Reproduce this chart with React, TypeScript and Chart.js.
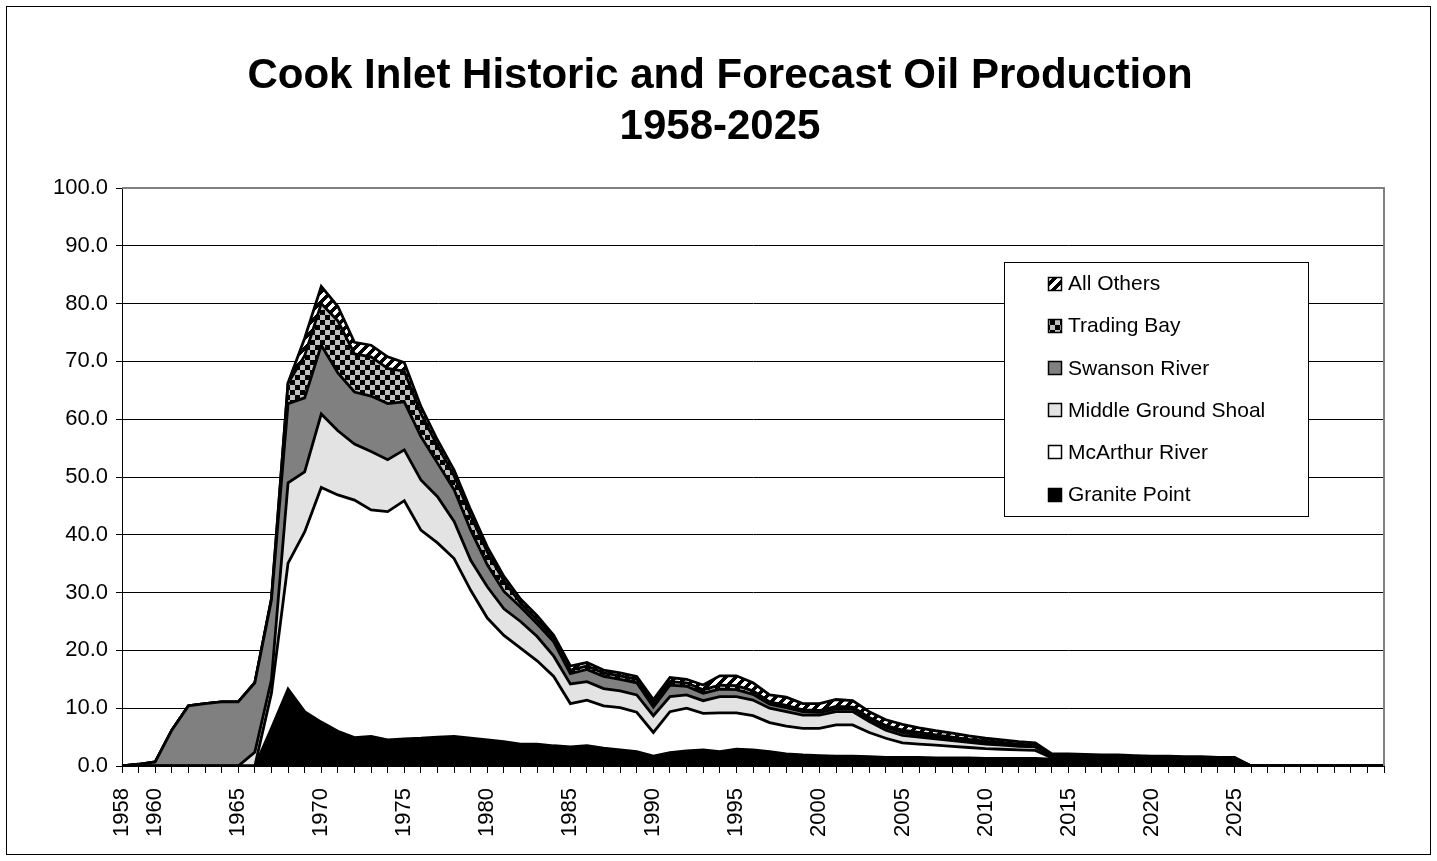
import React, { useEffect, useRef } from 'react';
import { Chart, registerables } from 'chart.js';

Chart.register(...registerables);

const years = [
  '1958', '1959', '1960', '1961', '1962', '1963', '1964', '1965', '1966', '1967',
  '1968', '1969', '1970', '1971', '1972', '1973', '1974', '1975', '1976', '1977',
  '1978', '1979', '1980', '1981', '1982', '1983', '1984', '1985', '1986', '1987',
  '1988', '1989', '1990', '1991', '1992', '1993', '1994', '1995', '1996', '1997',
  '1998', '1999', '2000', '2001', '2002', '2003', '2004', '2005', '2006', '2007',
  '2008', '2009', '2010', '2011', '2012', '2013', '2014', '2015', '2016', '2017',
  '2018', '2019', '2020', '2021', '2022', '2023', '2024', '2025', '2026', '2027',
  '2028', '2029', '2030', '2031', '2032', '2033', '2034',
];

const labeledYears = [
  '1958', '1960', '1965', '1970', '1975', '1980', '1985', '1990', '1995',
  '2000', '2005', '2010', '2015', '2020', '2025',
];

const titleLines = ['Cook Inlet Historic and Forecast Oil Production', '1958-2025'];

// 1958 .. 2034
const granitePoint = [
  0, 0, 0, 0, 0, 0, 0, 0, 0, 6.5,
  13.3, 9.4, 7.6, 6.0, 4.9, 5.1, 4.5, 4.7, 4.8, 5.0,
  5.1, 4.8, 4.5, 4.2, 3.8, 3.8, 3.5, 3.3, 3.5, 3.1,
  2.8, 2.5, 1.7, 2.3, 2.6, 2.8, 2.5, 2.9, 2.8, 2.5,
  2.1, 1.9, 1.8, 1.7, 1.7, 1.6, 1.5, 1.5, 1.5, 1.4,
  1.4, 1.4, 1.3, 1.3, 1.3, 1.3, 1.2, 1.2, 1.2, 1.1,
  1.1, 1.1, 1.0, 1.0, 1.0, 1.0, 0.9, 0.9, 0, 0,
  0, 0, 0, 0, 0, 0, 0,
];

const mcArthurRiver = [
  0, 0, 0, 0, 0, 0, 0, 0, 0, 6.1,
  21.8, 31.1, 40.6, 40.9, 41.1, 39.2, 39.5, 41.2, 36.0, 33.6,
  30.8, 25.6, 21.1, 18.4, 16.6, 14.4, 12.0, 7.5, 7.9, 7.3,
  7.3, 6.8, 4.1, 7.1, 7.4, 6.3, 6.7, 6.3, 5.9, 5.0,
  4.8, 4.6, 4.7, 5.4, 5.4, 4.2, 3.3, 2.5, 2.3, 2.2,
  2.0, 1.8, 1.7, 1.6, 1.5, 1.4, 0.2, 0.2, 0.2, 0.2,
  0.2, 0.2, 0.2, 0.2, 0.2, 0.2, 0.2, 0.2, 0, 0,
  0, 0, 0, 0, 0, 0, 0,
];

const middleGroundShoal = [
  0, 0, 0, 0, 0, 0, 0, 0, 2.4, 2.3,
  13.9, 10.4, 12.7, 11.1, 9.7, 10.1, 9.0, 8.8, 8.7, 8.0,
  6.4, 5.2, 5.4, 4.6, 4.6, 4.2, 3.5, 3.4, 3.2, 3.0,
  2.9, 3.0, 2.9, 2.6, 2.3, 2.2, 2.8, 2.8, 2.7, 2.5,
  2.5, 2.3, 2.3, 2.3, 2.3, 1.9, 1.4, 1.3, 1.2, 1.1,
  1.0, 0.9, 0.8, 0.7, 0.6, 0.6, 0.2, 0.2, 0.2, 0.2,
  0.2, 0.1, 0.1, 0.1, 0.1, 0.1, 0.1, 0.1, 0, 0,
  0, 0, 0, 0, 0, 0, 0,
];

const swansonRiver = [
  0.0, 0.3, 0.7, 6.2, 10.4, 10.8, 11.1, 11.1, 12.0, 13.8,
  13.7, 12.8, 11.9, 10.0, 9.0, 9.6, 9.7, 8.3, 7.5, 5.8,
  5.5, 5.2, 3.8, 3.0, 2.5, 2.2, 2.5, 1.8, 2.1, 2.1,
  2.0, 2.1, 1.5, 2.0, 1.5, 1.3, 1.3, 1.2, 1.0, 0.7,
  0.7, 0.6, 0.5, 0.5, 0.5, 0.4, 0.5, 0.5, 0.4, 0.4,
  0.4, 0.3, 0.3, 0.3, 0.3, 0.2, 0.2, 0.2, 0.1, 0.1,
  0.1, 0.1, 0.1, 0.1, 0.1, 0.1, 0.1, 0.1, 0, 0,
  0, 0, 0, 0, 0, 0, 0,
];

const tradingBay = [
  0, 0, 0, 0, 0, 0, 0, 0, 0, 0.1,
  3.5, 7.3, 7.2, 9.0, 6.6, 6.8, 6.1, 5.3, 4.0, 3.0,
  2.4, 2.5, 2.2, 1.8, 0.7, 0.7, 0.6, 0.6, 0.6, 0.6,
  0.6, 0.6, 0.6, 0.6, 0.6, 0.6, 0.7, 0.7, 0.6, 0.4,
  0.4, 0.3, 0.3, 0.4, 0.3, 0.3, 0.3, 0.4, 0.4, 0.3,
  0.2, 0.2, 0.2, 0.1, 0.1, 0.1, 0.1, 0.1, 0.1, 0.1,
  0.1, 0.1, 0.1, 0.1, 0.1, 0.1, 0.1, 0.1, 0, 0,
  0, 0, 0, 0, 0, 0, 0,
];

const allOthers = [
  0, 0, 0, 0, 0, 0, 0, 0, 0, 0.2,
  0.1, 3.0, 3.0, 2.5, 2.0, 2.0, 2.0, 1.5, 1.2, 1.0,
  1.0, 1.0, 0.9, 0.8, 0.7, 0.7, 0.5, 0.7, 0.6, 0.5,
  0.5, 0.5, 0.7, 0.7, 0.6, 0.8, 1.6, 1.7, 1.4, 1.2,
  1.4, 1.1, 1.2, 1.2, 1.1, 1.0, 1.0, 1.0, 0.8, 0.7,
  0.7, 0.6, 0.5, 0.5, 0.4, 0.4, 0.2, 0.2, 0.2, 0.2,
  0.2, 0.2, 0.2, 0.2, 0.1, 0.1, 0.1, 0.1, 0, 0,
  0, 0, 0, 0, 0, 0, 0,
];

const FONT = "'Liberation Sans', Arial, sans-serif";

function makeChecker(): CanvasPattern | string {
  const c = document.createElement('canvas');
  c.width = 10;
  c.height = 10;
  const g = c.getContext('2d');
  if (!g) return '#c0c0c0';
  g.fillStyle = '#c0c0c0';
  g.fillRect(0, 0, 10, 10);
  g.fillStyle = '#000000';
  g.fillRect(0, 0, 5, 5);
  g.fillRect(5, 5, 5, 5);
  return g.createPattern(c, 'repeat') || '#c0c0c0';
}

function makeStripes(): CanvasPattern | string {
  const c = document.createElement('canvas');
  c.width = 10;
  c.height = 10;
  const g = c.getContext('2d');
  if (!g) return '#808080';
  g.fillStyle = '#ffffff';
  g.fillRect(0, 0, 10, 10);
  g.fillStyle = '#000000';
  for (let y = 0; y < 10; y++) {
    for (let x = 0; x < 10; x++) {
      if ((x + y) % 10 < 5) g.fillRect(x, y, 1, 1);
    }
  }
  return g.createPattern(c, 'repeat') || '#808080';
}

const framePlugin = {
  id: 'frameAndBorder',
  afterDatasetsDraw(chart: any) {
    const { ctx, chartArea } = chart;
    ctx.save();
    ctx.strokeStyle = '#808080';
    ctx.lineWidth = 2;
    ctx.beginPath();
    ctx.moveTo(chartArea.left, chartArea.top);
    ctx.lineTo(chartArea.right, chartArea.top);
    ctx.lineTo(chartArea.right, chartArea.bottom);
    ctx.stroke();
    ctx.restore();
  },
  afterDraw(chart: any) {
    const { ctx } = chart;
    ctx.save();
    ctx.strokeStyle = '#000000';
    ctx.lineWidth = 1;
    ctx.strokeRect(6.5, 6.5, 1424, 848);
    ctx.fillStyle = '#000000';
    ctx.font = `bold 42px ${FONT}`;
    ctx.textAlign = 'center';
    ctx.textBaseline = 'middle';
    ctx.fillText(titleLines[0], 720, 76);
    ctx.fillText(titleLines[1], 720, 127);
    ctx.restore();
  },
};

const legendPlugin = {
  id: 'boxLegend',
  afterDraw(chart: any) {
    const { ctx, chartArea } = chart;
    const left = Math.round(chartArea.right - 380);
    const top = Math.round(chartArea.top + 74);
    const w = 304;
    const h = 254;
    ctx.save();
    ctx.fillStyle = '#ffffff';
    ctx.fillRect(left, top, w, h);
    ctx.strokeStyle = '#000000';
    ctx.lineWidth = 1;
    ctx.strokeRect(left + 0.5, top + 0.5, w, h);
    const ds = chart.data.datasets.slice().reverse();
    ds.forEach((d: any, i: number) => {
      const cy = top + 21.5 + i * 42.2;
      const sx = left + 44;
      const sy = Math.round(cy - 7);
      ctx.fillStyle = d.backgroundColor;
      ctx.fillRect(sx, sy, 14, 14);
      ctx.strokeStyle = '#000000';
      ctx.lineWidth = 1.5;
      ctx.strokeRect(sx + 0.5, sy + 0.5, 13, 13);
      ctx.fillStyle = '#000000';
      ctx.font = `21px ${FONT}`;
      ctx.textBaseline = 'middle';
      ctx.textAlign = 'left';
      ctx.fillText(d.label, left + 64, cy + 1);
    });
    ctx.restore();
  },
};

export default function App() {
  const ref = useRef<HTMLCanvasElement>(null);

  useEffect(() => {
    const canvas = ref.current;
    if (!canvas) return;
    const checker = makeChecker();
    const stripes = makeStripes();
    const series = [
      { label: 'Granite Point', data: granitePoint, bg: '#000000' },
      { label: 'McArthur River', data: mcArthurRiver, bg: '#ffffff' },
      { label: 'Middle Ground Shoal', data: middleGroundShoal, bg: '#e3e3e3' },
      { label: 'Swanson River', data: swansonRiver, bg: '#808080' },
      { label: 'Trading Bay', data: tradingBay, bg: checker },
      { label: 'All Others', data: allOthers, bg: stripes },
    ];

    const chart = new Chart(canvas, {
      type: 'line',
      data: {
        labels: years,
        datasets: series.map((s, i) => ({
          label: s.label,
          data: s.data,
          backgroundColor: s.bg as any,
          borderColor: '#000000',
          borderWidth: 2.8,
          fill: i === 0 ? 'origin' : '-1',
          pointRadius: 0,
          pointHoverRadius: 0,
          tension: 0,
        })),
      },
      options: {
        responsive: false,
        animation: false,
        events: [],
        layout: { padding: { left: 0, right: 53, top: 188, bottom: 0 } },
        plugins: {
          legend: { display: false },
          tooltip: { enabled: false },
          title: { display: false },
        },
        scales: {
          x: {
            type: 'category',
            offset: false,
            grid: {
              display: true,
              drawOnChartArea: false,
              drawTicks: true,
              tickLength: 7,
              color: '#000000',
              lineWidth: 1,
            },
            border: { display: true, color: '#000000', width: 1 },
            ticks: {
              autoSkip: false,
              maxRotation: 90,
              minRotation: 90,
              padding: 15,
              color: '#000000',
              font: { family: FONT, size: 22 },
              callback: (_v: any, i: number) =>
                labeledYears.includes(years[i]) ? years[i] : '',
            },
            afterFit: (s: any) => {
              s.height = 95;
            },
          },
          y: {
            stacked: true,
            min: 0,
            max: 100,
            grid: { color: '#000000', lineWidth: 1, tickLength: 6 },
            border: { display: true, color: '#000000', width: 1 },
            ticks: {
              stepSize: 10,
              padding: 8,
              color: '#000000',
              font: { family: FONT, size: 22 },
              callback: (v: any) => Number(v).toFixed(1),
            },
            afterFit: (s: any) => {
              s.width = 122;
            },
          },
        },
      } as any,
      plugins: [framePlugin, legendPlugin],
    });

    return () => chart.destroy();
  }, []);

  return (
    <div style={{ position: 'fixed', left: 0, top: 0, width: 1437, height: 861, background: '#ffffff' }}>
      <canvas ref={ref} width={1437} height={861} style={{ display: 'block', width: 1437, height: 861 }} />
    </div>
  );
}
